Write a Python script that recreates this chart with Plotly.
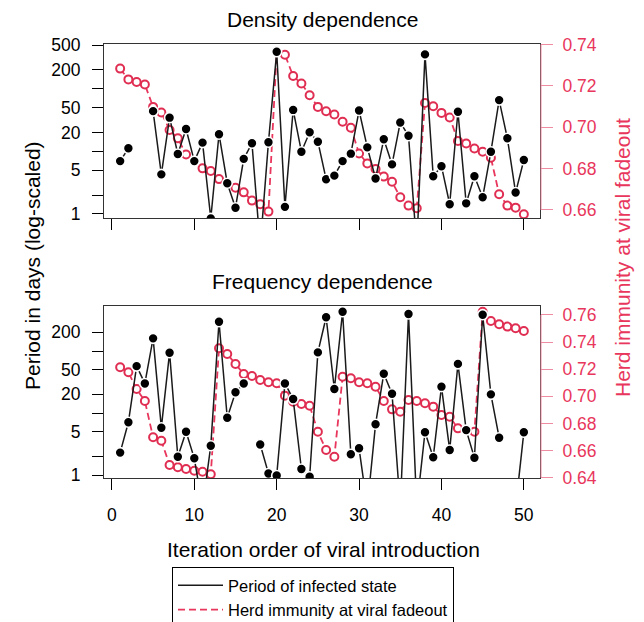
import plotly.graph_objects as go

W, H = 644, 622

iteration = list(range(1, 51))

# Density dependence: period (days), None = not defined, values < 1 fall below the axis
dens_period = [7.0, 11.2, None, None, 44, 4.3, 34.6, 9.1, 22.8, 7.0,
               13.8, 0.85, 18.8, 3.1, 1.26, 7.6, 13.5, 0.3, 14, 390,
               1.3, 46, 9.9, 20.2, 14.3, 3.6, 4.1, 7.0, 9.2, 45,
               11.6, 3.7, 15.6, 6.2, 29, 17.8, 0.3, 355, 4.0, 5.8,
               1.43, 43, 1.48, 4.0, 1.85, 9.9, 66, 16.2, 2.2, 7.3]
dens_herd = [0.7283, 0.7231, 0.7218, 0.7206, 0.7098, 0.7071, 0.6986, 0.6946, 0.6868, 0.6836,
             0.6801, 0.6788, 0.6749, 0.6729, 0.6707, 0.6685, 0.6645, 0.6628, 0.6592, 0.7363,
             0.7350, 0.7247, 0.7211, 0.7154, 0.7098, 0.7077, 0.7061, 0.7026, 0.6997, 0.6873,
             0.6825, 0.6798, 0.6761, 0.6736, 0.6661, 0.6621, 0.6608, 0.7117, 0.7101, 0.7069,
             0.7047, 0.6933, 0.6921, 0.6897, 0.6881, 0.6852, 0.6676, 0.6621, 0.6611, 0.6579]

# Frequency dependence
freq_period = [2.3, 7.1, 57, 30, 160, 5.8, 94, 1.97, 5.0, 1.86,
               0.3, 2.97, 297, 8.4, 21.6, 30, None, 3.1, 1.06, 0.98,
               30, 16.8, 1.25, 0.94, 95, 350, 24.4, 430, 2.16, 2.7,
               0.3, 6.6, 43, 20.5, 0.3, 395, 0.3, 4.9, 1.93, 26.6,
               2.53, 62, 5.3, 1.9, 385, 20, 4.0, None, 0.3, 4.9]
freq_herd = [0.7214, 0.7177, 0.7054, 0.6966, 0.6698, 0.6673, 0.6494, 0.6477, 0.6464, 0.6452,
             0.6444, 0.6425, 0.7354, 0.7312, 0.7238, 0.7165, 0.7150, 0.7120, 0.7104, 0.7096,
             0.7005, 0.6960, 0.6944, 0.6931, 0.6739, 0.6604, 0.6555, 0.7145, 0.7133, 0.7104,
             0.7096, 0.7071, 0.6966, 0.6904, 0.6887, 0.6973, 0.6966, 0.6949, 0.6924, 0.6862,
             0.6850, 0.6764, 0.6752, 0.6739, 0.7624, 0.7556, 0.7531, 0.7514, 0.7502, 0.7482]

panel_titles = ["Density dependence", "Frequency dependence"]
x_ticks = [0, 10, 20, 30, 40, 50]
period_ticks = [1, 2, 5, 10, 20, 50, 100, 200, 500]
period_labels_top = ["1", "", "5", "", "20", "50", "", "200", "500"]
period_labels_bottom = ["1", "", "5", "", "20", "50", "", "200"]
herd_ticks_top = [0.66, 0.68, 0.70, 0.72, 0.74]
herd_ticks_bottom = [0.64, 0.66, 0.68, 0.70, 0.72, 0.74, 0.76]

RED = "#E8365C"
RED_MARK = "#E02E52"
PINK = "#F08CA2"
BLACK = "#1a1a1a"
FONT = "Liberation Sans, Arial, sans-serif"

def px_x(p):
    return p / W

def px_y(p):
    return 1 - p / H

xdom = [px_x(104), px_x(540)]
top_dom = [px_y(218), px_y(44)]
bot_dom = [px_y(478), px_y(306)]

fig = go.Figure()

def add_panel(period, herd, xa, herd_ax, per_ax, show_legend):
    fig.add_trace(go.Scatter(
        x=iteration, y=herd, xaxis=xa, yaxis=herd_ax, mode="lines",
        line=dict(color=RED, width=1.8, dash="7px,4px"),
        name="Herd immunity at viral fadeout", showlegend=show_legend,
        legendrank=2, hoverinfo="skip"))
    fig.add_trace(go.Scatter(
        x=iteration, y=herd, xaxis=xa, yaxis=herd_ax, mode="markers",
        marker=dict(symbol="circle", size=8, color="white",
                    line=dict(color=RED_MARK, width=2)),
        showlegend=False))
    fig.add_trace(go.Scatter(
        x=iteration, y=period, xaxis=xa, yaxis=per_ax, mode="lines",
        line=dict(color=BLACK, width=1.5), connectgaps=False,
        name="Period of infected state", showlegend=show_legend,
        legendrank=1, hoverinfo="skip"))
    fig.add_trace(go.Scatter(
        x=iteration, y=period, xaxis=xa, yaxis=per_ax, mode="markers",
        marker=dict(symbol="circle", size=10, color="black",
                    line=dict(color="white", width=1.6)),
        showlegend=False))

add_panel(dens_period, dens_herd, "x", "y", "y2", True)
add_panel(freq_period, freq_herd, "x2", "y3", "y4", False)

tickfont = dict(family=FONT, size=17.5, color="black")
redtickfont = dict(family=FONT, size=17.5, color=RED)

xcommon = dict(domain=xdom, range=[-0.96, 51.96], tickvals=x_ticks,
               ticks="outside", ticklen=11, tickcolor="black", tickwidth=1,
               showline=True, linecolor="#333", linewidth=1, mirror=True,
               showgrid=False, zeroline=False, tickfont=tickfont,
               ticklabelstandoff=10, automargin=False)

fig.update_layout(
    width=W, height=H,
    margin=dict(l=0, r=0, t=0, b=0, pad=0, autoexpand=False),
    paper_bgcolor="white", plot_bgcolor="white",
    font=dict(family=FONT, color="black"),
    xaxis=dict(xcommon, anchor="y", showticklabels=False),
    xaxis2=dict(xcommon, anchor="y3", showticklabels=True),
    yaxis=dict(domain=top_dom, anchor="x", side="right",
               range=[0.6561, 0.7402], tickvals=herd_ticks_top,
               ticktext=[f"{v:.2f}" for v in herd_ticks_top],
               ticks="outside", ticklen=12, tickcolor=PINK,
               showline=False, showgrid=False, zeroline=False,
               tickfont=redtickfont, ticklabelstandoff=6, automargin=False),
    yaxis2=dict(overlaying="y", anchor="x", side="left", type="log",
                range=[-0.064, 2.716], tickvals=period_ticks,
                ticktext=period_labels_top, ticks="outside", ticklen=11,
                tickcolor="black", showline=True, linecolor="#333",
                linewidth=1, mirror=True, showgrid=False, zeroline=False,
                tickfont=tickfont, ticklabelstandoff=8, automargin=False),
    yaxis3=dict(domain=bot_dom, anchor="x2", side="right",
                range=[0.6398, 0.7666], tickvals=herd_ticks_bottom,
                ticktext=[f"{v:.2f}" for v in herd_ticks_bottom],
                ticks="outside", ticklen=12, tickcolor=PINK,
                showline=False, showgrid=False, zeroline=False,
                tickfont=redtickfont, ticklabelstandoff=6, automargin=False),
    yaxis4=dict(overlaying="y3", anchor="x2", side="left", type="log",
                range=[-0.048, 2.726], tickvals=period_ticks[:-1],
                ticktext=period_labels_bottom, ticks="outside", ticklen=11,
                tickcolor="black", showline=True, linecolor="#333",
                linewidth=1, mirror=True, showgrid=False, zeroline=False,
                tickfont=tickfont, ticklabelstandoff=8, automargin=False),
    legend=dict(x=px_x(172), y=px_y(567), xanchor="left", yanchor="top",
                bordercolor="black", borderwidth=1, bgcolor="white",
                font=dict(family=FONT, size=16.5, color="black"),
                itemwidth=45, tracegroupgap=0),
    showlegend=True,
)

# right-axis lines spanning the tick range (R style)
fig.add_shape(type="line", xref="paper", yref="y", x0=px_x(541), x1=px_x(541),
              y0=herd_ticks_top[0], y1=herd_ticks_top[-1],
              line=dict(color=PINK, width=1))
fig.add_shape(type="line", xref="paper", yref="y3", x0=px_x(541), x1=px_x(541),
              y0=herd_ticks_bottom[0], y1=herd_ticks_bottom[-1],
              line=dict(color=PINK, width=1))

title_font = dict(family=FONT, size=21, color="black")
fig.add_annotation(text=panel_titles[0], xref="paper", yref="paper",
                   x=px_x(322), y=px_y(19), showarrow=False, font=title_font,
                   xanchor="center", yanchor="middle")
fig.add_annotation(text=panel_titles[1], xref="paper", yref="paper",
                   x=px_x(322), y=px_y(281), showarrow=False, font=title_font,
                   xanchor="center", yanchor="middle")
fig.add_annotation(text="Iteration order of viral introduction", xref="paper",
                   yref="paper", x=px_x(323), y=px_y(549), showarrow=False,
                   font=title_font, xanchor="center", yanchor="middle")
fig.add_annotation(text="Period in days (log-scaled)", xref="paper",
                   yref="paper", x=px_x(33), y=px_y(266), showarrow=False,
                   font=title_font, textangle=-90, xanchor="center",
                   yanchor="middle")
fig.add_annotation(text="Herd immunity at viral fadeout", xref="paper",
                   yref="paper", x=px_x(622), y=px_y(258), showarrow=False,
                   font=dict(family=FONT, size=21, color=RED), textangle=-90,
                   xanchor="center", yanchor="middle")

fig.write_html("out.html", config={"displayModeBar": False},
               post_script="document.body.style.margin='0';document.body.style.padding='0';document.body.style.overflow='hidden';")
